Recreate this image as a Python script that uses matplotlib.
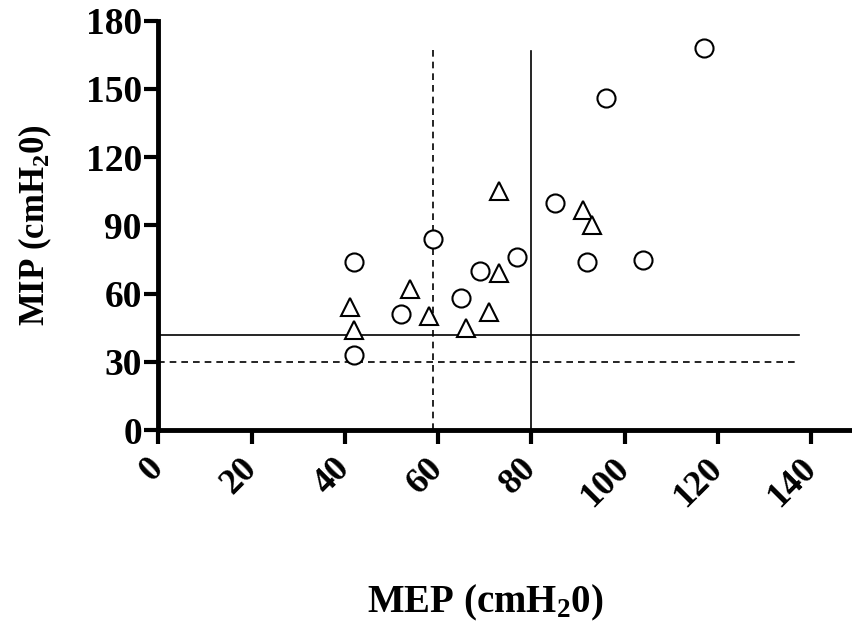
import numpy as np
import matplotlib
matplotlib.use("Agg")
import matplotlib.pyplot as plt

plt.rcParams['font.family'] = ['Liberation Serif', 'DejaVu Serif']
plt.rcParams['font.weight'] = 'bold'
plt.rcParams['mathtext.fontset'] = 'custom'
plt.rcParams['mathtext.rm'] = 'Liberation Serif:bold'
plt.rcParams['mathtext.bf'] = 'Liberation Serif:bold'
plt.rcParams['mathtext.it'] = 'Liberation Serif:bold'

# circles group
circ_mep = [117, 96, 85, 59, 77, 69, 65, 92, 104, 42, 42, 52]
circ_mip = [168, 146, 100, 84, 76, 70, 58, 74, 75, 74, 33, 51]

# triangles group
tri_mep = [73, 91, 93, 73, 71, 66, 58, 41, 42, 54]
tri_mip = [105, 97, 90, 69, 52, 45, 50, 54, 44, 62]

# cut-off lines
mip_solid, mip_dash = 42, 30
mep_solid, mep_dash = 80, 59

xticks = [0, 20, 40, 60, 80, 100, 120, 140]
yticks = [0, 30, 60, 90, 120, 150, 180]

fig = plt.figure(figsize=(8.52, 6.28), dpi=100)
ax = fig.add_axes([0.186, 0.315, 0.814, 0.652])

ax.plot(circ_mep, circ_mip, 'o', ms=13, mfc='white', mec='black', mew=1.5, ls='none', zorder=3)
ax.plot(tri_mep, tri_mip, '^', ms=13, mfc='white', mec='black', mew=1.5, ls='none', zorder=3)

ax.plot([0, 137.5], [mip_solid, mip_solid], color='black', lw=1.2)
ax.plot([0, 136.5], [mip_dash, mip_dash], color='black', lw=1.2, ls=(0, (4, 3)))
ax.plot([mep_solid, mep_solid], [0, 166.5], color='black', lw=1.2)
ax.plot([mep_dash, mep_dash], [0, 167], color='black', lw=1.2, ls=(0, (4, 3)))

ax.set_xlim(0, 148.8)
ax.set_ylim(0, 180)
ax.set_xticks(xticks)
ax.set_yticks(yticks)
ax.set_xticklabels([str(v) for v in xticks], rotation=45, ha='right', va='center',
                   rotation_mode='anchor', fontsize=26, fontweight='bold')
ax.set_yticklabels([str(v) for v in yticks], fontsize=27, fontweight='bold')

for side in ['top', 'right']:
    ax.spines[side].set_visible(False)
for side in ['left', 'bottom']:
    ax.spines[side].set_linewidth(3.5)
ax.tick_params(axis='both', direction='out', length=10, width=3)
ax.tick_params(axis='x', pad=14)
ax.tick_params(axis='y', pad=2)

fig.text(0.570, 0.040, r'MEP (cmH$_{2}$0)', ha='center', va='center', fontsize=28, fontweight='bold')
fig.text(0.041, 0.642, r'MIP (cmH$_{2}$0)', ha='center', va='center', rotation=90,
         fontsize=25, fontweight='bold')

fig.savefig('out.png', dpi=100)
